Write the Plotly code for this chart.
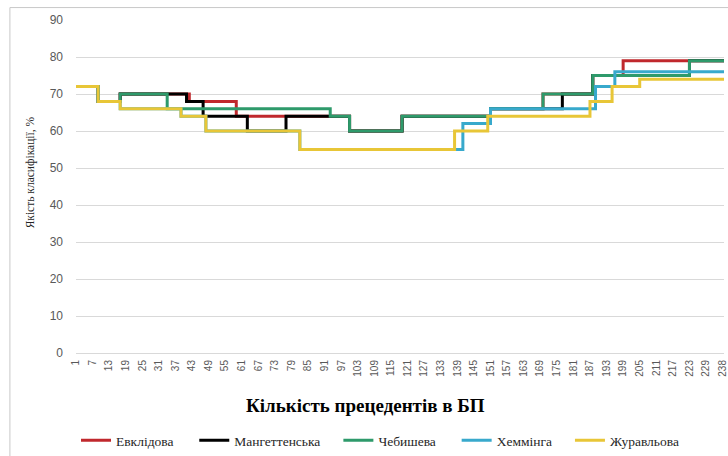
import plotly.graph_objects as go

# ---- data (category where a level starts, level value) ----
tick_vals = list(range(1, 230, 6)) + [235]
tick_text = [str(v) for v in range(1, 230, 6)] + ["238"]
x_end = 235.5

names = ["Евклідова", "Мангеттенська", "Чебишева", "Хеммінга", "Журавльова"]
colors = ["#c0282d", "#000000", "#2e9a6b", "#38a9cc", "#e8c637"]

evkl_x = [1, 9, 17, 42, 59, 100, 119, 151, 170, 188, 199]
evkl_y = [72, 68, 70, 68, 64, 60, 64, 66, 70, 75, 79]

mang_x = [1, 9, 17, 41, 47, 63, 77, 100, 119, 151, 177, 188, 223]
mang_y = [72, 68, 70, 68, 64, 60, 64, 60, 64, 66, 70, 75, 79]

cheb_x = [1, 9, 17, 34, 93, 100, 119, 151, 170, 188, 223]
cheb_y = [72, 68, 70, 66, 64, 60, 64, 66, 70, 75, 79]

hemm_x = [1, 9, 17, 39, 48, 82, 141, 151, 189, 196]
hemm_y = [72, 68, 66, 64, 60, 55, 62, 66, 72, 76]

zhur_x = [1, 9, 17, 39, 48, 82, 138, 150, 187, 195, 205]
zhur_y = [72, 68, 66, 64, 60, 55, 60, 64, 68, 72, 74]

series = [(evkl_x, evkl_y), (mang_x, mang_y), (cheb_x, cheb_y),
          (hemm_x, hemm_y), (zhur_x, zhur_y)]

W, H = 728, 456
L, R, T, B = 76, 0, 20, 101
pw, ph = W - L - R, H - T - B

def px(xp):
    return (xp - L) / pw

def py(yp):
    return (H - B - yp) / ph

serif = "Liberation Serif"
sans = "Liberation Sans"

legend_ids = ["legend", "legend2", "legend3", "legend4", "legend5"]
legend_left = [76, 195, 340, 459, 573]

fig = go.Figure()
for (xs, ys), name, col, lid in zip(series, names, colors, legend_ids):
    fig.add_trace(go.Scatter(
        x=xs + [x_end], y=ys + [ys[-1]], mode="lines", name=name,
        line=dict(color=col, width=3, shape="hv"), legend=lid,
    ))

legend_style = dict(orientation="h", xanchor="left", y=py(443), yanchor="middle",
                    font=dict(family=serif, size=13.5, color="#262626"),
                    bgcolor="rgba(0,0,0,0)", borderwidth=0)
legends = {lid: dict(legend_style, x=px(xl)) for lid, xl in zip(legend_ids, legend_left)}

fig.update_layout(
    width=W, height=H,
    margin=dict(l=L, r=R, t=T, b=B),
    paper_bgcolor="white", plot_bgcolor="white",
    showlegend=True,
    **legends,
    xaxis=dict(range=[1, x_end], tickmode="array", tickvals=tick_vals, ticktext=tick_text,
               tickangle=-90, tickfont=dict(family=sans, size=10, color="#595959"),
               showgrid=False, showline=True, linecolor="#d9d9d9", linewidth=1,
               zeroline=False, ticks="", ticklabelstandoff=2, ticklabeloverflow="allow"),
    yaxis=dict(range=[0, 90], dtick=10, tickfont=dict(family=sans, size=12, color="#595959"),
               showgrid=True, gridcolor="#d9d9d9", gridwidth=1, zeroline=False,
               showline=False, ticks="", ticklabelstandoff=12),
    annotations=[
        dict(text="<b>Кількість прецедентів в БП</b>", x=px(367), y=py(408),
             xref="paper", yref="paper", showarrow=False, xanchor="center", yanchor="middle",
             font=dict(family=serif, size=19, color="#000000")),
        dict(text="Якість класифікації, %", x=px(30), y=py(173), textangle=-90,
             xref="paper", yref="paper", showarrow=False, xanchor="center", yanchor="middle",
             font=dict(family=serif, size=11.5, color="#262626")),
    ],
    shapes=[
        dict(type="rect", xref="paper", yref="paper", x0=px(9.5), x1=px(760),
             y0=py(500), y1=py(7.5), line=dict(color="#c8c8c8", width=1),
             fillcolor="rgba(0,0,0,0)", layer="below"),
    ],
)

fig.write_html("out.html")
